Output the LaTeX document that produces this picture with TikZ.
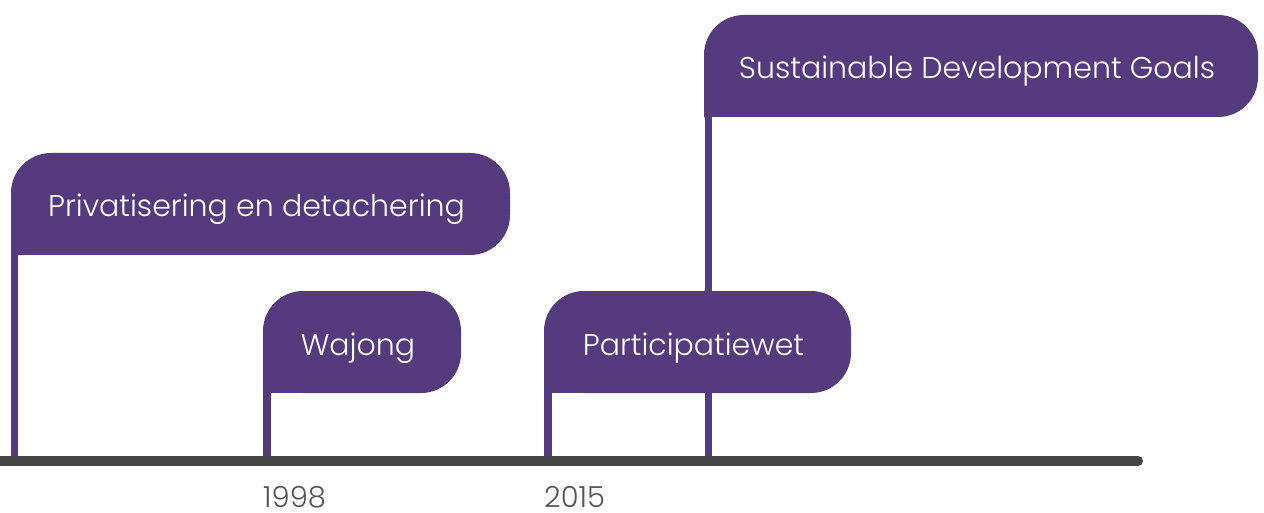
\documentclass[tikz,border=0pt]{standalone}
\usepackage{fontspec}
\setmainfont{Poppins}[UprightFont=* Light]
\definecolor{flagpurple}{HTML}{553A7E}
\definecolor{axisgray}{HTML}{444444}
\definecolor{yeargray}{HTML}{555555}

\begin{document}
\begin{tikzpicture}[x=1pt, y=-1pt,
    flag/.style={fill=flagpurple, rounded corners=40pt},
    foot/.style={fill=flagpurple},
    pole/.style={draw=flagpurple, line width=7.5pt},
    label/.style={anchor=base, text=white, inner sep=0pt, font=\fontsize{30}{35}\selectfont},
    year/.style={anchor=base west, text=yeargray, inner sep=0pt, font=\fontsize{29}{34}\selectfont}]
    \useasboundingbox (0,0) rectangle (1264,513);
    % flags
    \fill[flag] (11,153) rectangle (510,255);
    \fill[foot] (11,205) rectangle (60,255);
    \fill[flag] (263,291) rectangle (461,393);
    \fill[foot] (263,343) rectangle (312,393);
    \fill[flag] (544,291) rectangle (851,393);
    \fill[foot] (544,343) rectangle (593,393);
    \fill[flag] (704,15) rectangle (1258,117);
    \fill[foot] (704,67) rectangle (753,117);
    % poles
    \coordinate (privtop) at (14.5,255);  \coordinate (privbot) at (14.5,461);
    \coordinate (wajtop) at (267,393);    \coordinate (wajbot) at (267,461);
    \coordinate (pwtop) at (548,393);     \coordinate (pwbot) at (548,461);
    \coordinate (sdgtop) at (708.5,117);  \coordinate (sdgbot) at (708.5,461);
    \draw[pole] (privtop) -- (privbot);
    \draw[pole] (wajtop) -- (wajbot);
    \draw[pole] (pwtop) -- (pwbot);
    \draw[pole] (sdgtop) -- (sdgbot);
    % timeline
    \coordinate (start) at (0,461);
    \coordinate (end) at (1138,461);
    \draw[axisgray, line width=10pt, line cap=round] (start) -- (end);
    % labels
    \node[label] (priv) at (256.5,217) {Privatisering en detachering};
    \node[label] (waj) at (358,355) {Wajong};
    \node[label] (pw) at (693.5,355) {Participatiewet};
    \node[label] (sdg) at (977,79) {Sustainable Development Goals};
    \node[year] (y1998) at (263,507) {1998};
    \node[year] (y2015) at (544,507) {2015};
\end{tikzpicture}
\end{document}
